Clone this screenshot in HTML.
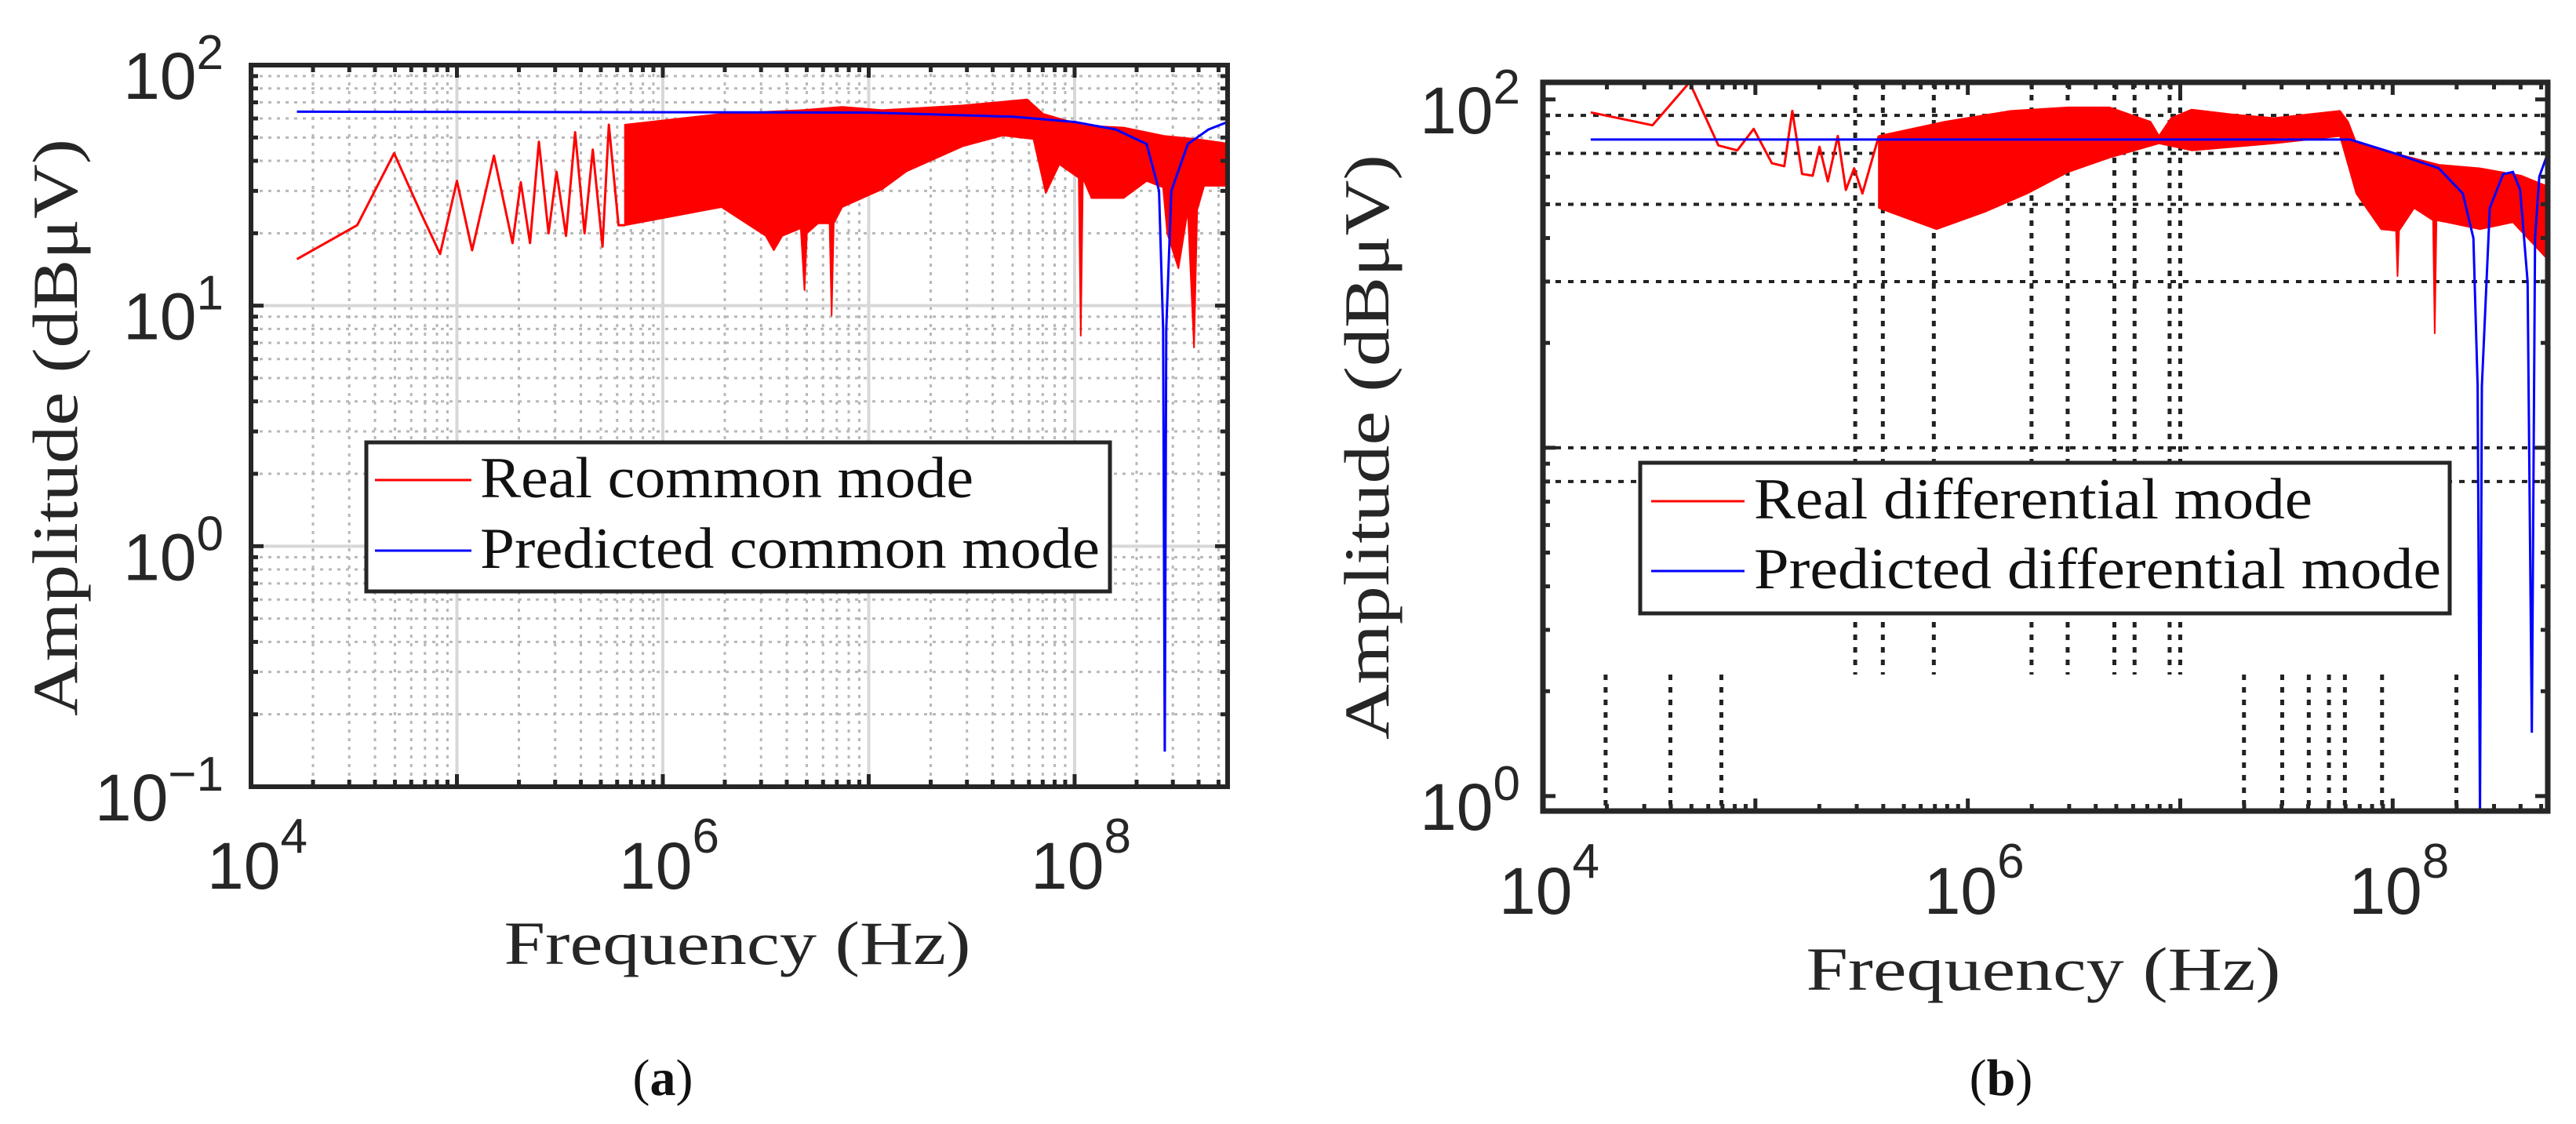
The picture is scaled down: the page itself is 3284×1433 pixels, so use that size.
<!DOCTYPE html>
<html><head><meta charset="utf-8"><style>
html,body{margin:0;padding:0;background:#fff;}
svg{display:block;}
</style></head><body>
<svg id="fig" width="3284" height="1433" viewBox="0 0 3284 1433" xmlns="http://www.w3.org/2000/svg">
<rect x="0" y="0" width="3284" height="1433" fill="#fff"/>
</svg>
<script>
// ---------- Panel (a) data: common mode (frequency as log10 Hz, amplitude in dBuV axis units) ----------
const aRedLineExp = [4.223,4.516,4.695,4.828,4.918,5.0,5.074,5.18,5.27,5.31,5.355,5.398,5.445,5.484,5.53,5.574,5.62,5.66,5.707,5.738,5.785,5.816];
const aRedLineAmp = [15.6,21.6,43,24,16.4,33,17,42,18.2,32.6,18.2,48,20,36,19.5,52.6,20,44.5,17.6,56.5,21.6,21.6];
const aRedUpperExp = [5.816,6.285,6.676,6.871,7.066,7.457,7.77,7.848,8.043,8.238,8.434,8.59,8.743];
const aRedUpperAmp = [56.5,62.7,65,67,65,68,72,62.7,56,55,50.8,49.3,47.2];
const aRedLowerExp = [5.816,6.09,6.285,6.5,6.539,6.58,6.67,6.688,6.7,6.754,6.81,6.82,6.83,6.871,7.066,7.184,7.457,7.652,7.8,7.86,7.926,8.02,8.03,8.04,8.082,8.238,8.35,8.43,8.45,8.504,8.55,8.58,8.595,8.629,8.743];
const aRedLowerAmp = [21.6,23.9,25.7,19.5,17,19.5,21,11.6,20,22,22,9.1,22,25.7,30.5,36.2,46,51,49.3,29.4,38.7,34,7.5,34,28,28,33,31,20,14.3,25,6.7,25,31.5,31.5];
const aBlueExp = [4.223,7.0,7.7,8.0,8.2,8.35,8.41,8.43,8.438,8.445,8.47,8.55,8.65,8.743];
const aBlueAmp = [64,63.5,61,58,54,47,30,8,0.14,8,30,47,54,58];
const aXTicks = [4,6,8];
const aYTicks = [-1,0,1,2];

// ---------- Panel (b) data: differential mode ----------
const bRedLineExp = [4.225,4.516,4.69,4.826,4.915,4.992,5.078,5.136,5.174,5.22,5.27,5.302,5.341,5.388,5.426,5.465,5.504,5.581];
const bRedLineAmp = [91.8,84.3,112,73.8,71.4,82.3,65.6,64.3,92.7,61.1,60.4,73.1,58.2,78.5,55,63.4,53.7,78.5];
const bRedUpperExp = [5.581,5.891,6.202,6.473,6.667,6.86,6.9,6.957,7.054,7.248,7.442,7.752,7.79,7.829,8.217,8.411,8.605,8.725];
const bRedUpperAmp = [78.5,86.3,92.7,94.9,94.9,86.3,78.5,88.4,93.5,90.5,88.4,92.7,86.3,74.8,64.9,63.4,60.4,56.4];
const bRedLowerExp = [5.581,5.853,6.085,6.279,6.473,6.667,6.9,7.054,7.442,7.752,7.829,7.946,8.016,8.023,8.03,8.101,8.19,8.198,8.206,8.256,8.411,8.566,8.725];
const bRedLowerAmp = [48.8,42.4,47.7,53.7,61.9,68.1,74.8,71.4,74.8,78.5,53.7,42.4,42,31.1,42,48.8,45,21.3,45,44.4,42.4,44.4,35];
const bBlueExp = [4.225,7.8,8.02,8.217,8.33,8.38,8.40,8.411,8.42,8.457,8.52,8.566,8.60,8.635,8.655,8.67,8.69,8.725];
const bBlueAmp = [76.7,76.7,69.7,63.4,53.7,40,15,0.5,15,48.8,61,61.9,55,30,1.52,40,60,68.7];
const bXTicks = [4,6,8];
const bYTicks = [0,2];
const bGridHVals = [90,70,50,30,10,8];
const bGridVUpperExp = [5.47,5.6,5.84,6.30,6.47,6.69,6.785,6.95,7.0];
const bGridVLowerExp = [4.295,4.60,4.84,7.30,7.48,7.605,7.70,7.775,7.95,8.30];

const NS='http://www.w3.org/2000/svg';
const svg=document.getElementById('fig');
function mk(tag,attrs,parent){const e=document.createElementNS(NS,tag);for(const k in attrs)e.setAttribute(k,attrs[k]);(parent||svg).appendChild(e);return e;}

function makeAxes(P){
  P.sx=e=>P.x0+(e-P.xmin)/(P.xmax-P.xmin)*(P.x1-P.x0);
  P.sy=v=>{let l=Math.log10(Math.max(v,1e-9));return P.y1-(l-P.ymin)/(P.ymax-P.ymin)*(P.y1-P.y0);};
  P.syl=l=>P.y1-(l-P.ymin)/(P.ymax-P.ymin)*(P.y1-P.y0);
}
function pts(P,ex,am){return ex.map((e,i)=>P.sx(e).toFixed(1)+','+Math.min(P.y1,Math.max(P.y0,P.sy(am[i]))).toFixed(1)).join(' ');}

function drawPanel(P,D){
  makeAxes(P);
  const g=mk('g',{});
  
  
  const clipId=P.name+'-clip';
  const cp=mk('clipPath',{id:clipId},g);mk('rect',{x:P.x0,y:P.y0,width:P.x1-P.x0,height:P.y1-P.y0},cp);
  const grid=mk('g',{},g);
  
  
  if(P.stdGrid){
    for(let d=Math.floor(P.xmin);d<=Math.ceil(P.xmax);d++){for(let m=1;m<10;m++){const e=d+Math.log10(m);if(e<=P.xmin||e>=P.xmax)continue;const x=P.sx(e);
      if(m===1)mk('line',{x1:x,y1:P.y0,x2:x,y2:P.y1,stroke:'#d8d8d8','stroke-width':4},grid);
      else mk('line',{x1:x,y1:P.y0,x2:x,y2:P.y1,stroke:'#b8b8b8','stroke-width':3,'stroke-dasharray':'4 7'},grid);}}
    for(let d=Math.floor(P.ymin);d<=Math.ceil(P.ymax);d++){for(let m=1;m<10;m++){const l=d+Math.log10(m);if(l<=P.ymin||l>=P.ymax)continue;const y=P.syl(l);
      if(m===1)mk('line',{x1:P.x0,y1:y,x2:P.x1,y2:y,stroke:'#d8d8d8','stroke-width':4},grid);
      else mk('line',{x1:P.x0,y1:y,x2:P.x1,y2:y,stroke:'#b8b8b8','stroke-width':3,'stroke-dasharray':'4 7'},grid);}}
  } else {
    bGridHVals.forEach(v=>{const y=P.sy(v);mk('line',{x1:P.x0,y1:y,x2:P.x1,y2:y,stroke:'#222','stroke-width':4,'stroke-dasharray':'7 9'},grid);});
    const split=860;
    bGridVUpperExp.forEach(e=>{const x=P.sx(e);mk('line',{x1:x,y1:P.y0,x2:x,y2:split,stroke:'#222','stroke-width':5,'stroke-dasharray':'7 9'},grid);});
    bGridVLowerExp.forEach(e=>{const x=P.sx(e);mk('line',{x1:x,y1:split,x2:x,y2:P.y1,stroke:'#222','stroke-width':5,'stroke-dasharray':'7 9'},grid);});
  }
  const data=mk('g',{'clip-path':'url(#'+clipId+')'},g);
  
  
  const band=mk('polygon',{points:pts(P,D.ue,D.ua)+' '+pts(P,D.le.slice().reverse(),D.la.slice().reverse()),fill:'#ff0000',stroke:'#ff0000','stroke-width':2,'stroke-linejoin':'round'},data);
  
  
  const rl=mk('polyline',{points:pts(P,D.re,D.ra),fill:'none',stroke:'#ff0000','stroke-width':3,'stroke-linejoin':'round'},data);
  
  
  const bl=mk('polyline',{points:pts(P,D.be,D.ba),fill:'none',stroke:'#0000ff','stroke-width':3},data);
  
  
  const tk=mk('g',{stroke:'#262626','stroke-width':5},g);
  
  
  for(let d=Math.floor(P.xmin);d<=Math.ceil(P.xmax);d++){for(let m=1;m<10;m++){const e=d+Math.log10(m);if(e<P.xmin||e>P.xmax)continue;const x=P.sx(e),L=m===1?16:9;
    mk('line',{x1:x,y1:P.y1,x2:x,y2:P.y1-L},tk);mk('line',{x1:x,y1:P.y0,x2:x,y2:P.y0+L},tk);}}
  for(let d=Math.floor(P.ymin);d<=Math.ceil(P.ymax);d++){for(let m=1;m<10;m++){const l=d+Math.log10(m);if(l<P.ymin||l>P.ymax)continue;const y=P.syl(l),L=m===1?16:9;
    mk('line',{x1:P.x0,y1:y,x2:P.x0+L,y2:y},tk);mk('line',{x1:P.x1,y1:y,x2:P.x1-L,y2:y},tk);}}
  const box=mk('rect',{x:P.x0,y:P.y0,width:P.x1-P.x0,height:P.y1-P.y0,fill:'none',stroke:'#262626','stroke-width':P.bw},g);
  
  
  P.xt.forEach(e=>{const t=mk('text',{x:P.sx(e)+8,y:P.xly,'text-anchor':'middle','font-family':'Liberation Sans, sans-serif','font-size':84,fill:'#262626'},g);
    
    
    t.appendChild(document.createTextNode('10'));const s=mk('tspan',{dy:-46,'font-size':62},t);s.textContent=String(e);});
  P.yt.forEach(l=>{const y=P.syl(l);const t=mk('text',{x:P.x0-P.ylgap,y:y+43,'text-anchor':'end','font-family':'Liberation Sans, sans-serif','font-size':84,fill:'#262626'},g);
    
    
    t.appendChild(document.createTextNode('10'));const s=mk('tspan',{dy:-38,'font-size':62},t);s.textContent=l<0?'\u2212'+(-l):String(l);});
  const xt=mk('text',{x:P.xtx,y:P.xty,'text-anchor':'middle','font-family':'Liberation Serif, serif','font-size':78,fill:'#262626',textLength:P.xtw,lengthAdjust:'spacingAndGlyphs'},g);
  
  
  xt.textContent='Frequency (Hz)';
  const yt=mk('text',{x:0,y:0,'text-anchor':'middle','font-family':'Liberation Serif, serif','font-size':82,fill:'#262626',textLength:P.ytw,lengthAdjust:'spacingAndGlyphs',transform:'translate('+P.ytx+','+P.yty+') rotate(-90)'},g);
  
  
  yt.textContent='Amplitude (dB\u03BCV)';
  const lg=mk('g',{},g);
  
  
  mk('rect',{x:P.lx0,y:P.ly0,width:P.lx1-P.lx0,height:P.ly1-P.ly0,fill:'#fff',stroke:'#262626','stroke-width':5},lg);
  [[P.lab1,'#ff0000',P.lr1,P.lw1],[P.lab2,'#0000ff',P.lr2,P.lw2]].forEach(([txt,col,by,w],i)=>{
    const en=mk('g',{},lg);
    
    
    mk('line',{x1:P.ls0,y1:by-22,x2:P.ls1,y2:by-22,stroke:col,'stroke-width':3},en);
    const t=mk('text',{x:P.lt0,y:by,'font-family':'Liberation Serif, serif','font-size':74,fill:'#111',textLength:w,lengthAdjust:'spacingAndGlyphs'},en);t.textContent=txt;});
  const cap=mk('text',{x:P.capx,y:1396,'text-anchor':'middle','font-family':'Liberation Serif, serif','font-size':66,fill:'#111'},g);
  
  
  cap.appendChild(document.createTextNode('('));const b=mk('tspan',{'font-weight':'bold'},cap);b.textContent=P.capl;cap.appendChild(document.createTextNode(')'));
}

drawPanel({name:'chart-common-mode',x0:320,x1:1565,y0:83,y1:1003,xmin:4,xmax:8.743,ymin:-1,ymax:2,bw:6,stdGrid:true,
  xt:aXTicks,yt:aYTicks,xly:1133,ylgap:35,xtx:940,xty:1229,xtw:595,ytx:98,yty:545,ytw:736,
  lx0:467,lx1:1415,ly0:564,ly1:754,ls0:478,ls1:601,lt0:612,lab1:'Real common mode',lab2:'Predicted common mode',lr1:634,lr2:724,lw1:629,lw2:790,capx:845,capl:'a'},
  {re:aRedLineExp,ra:aRedLineAmp,ue:aRedUpperExp,ua:aRedUpperAmp,le:aRedLowerExp,la:aRedLowerAmp,be:aBlueExp,ba:aBlueAmp});

drawPanel({name:'chart-differential-mode',x0:1967,x1:3248,y0:105,y1:1034,xmin:4,xmax:8.73,ymin:-0.043,ymax:2.049,bw:7,stdGrid:false,
  xt:bXTicks,yt:bYTicks,xly:1165,ylgap:29,xtx:2605,xty:1262,xtw:605,ytx:1770,yty:570,ytw:746,
  lx0:2091,lx1:3123,ly0:590,ly1:782,ls0:2105,ls1:2224,lt0:2236,lab1:'Real differential mode',lab2:'Predicted differential mode',lr1:661,lr2:750,lw1:712,lw2:876,capx:2551,capl:'b'},
  {re:bRedLineExp,ra:bRedLineAmp,ue:bRedUpperExp,ua:bRedUpperAmp,le:bRedLowerExp,la:bRedLowerAmp,be:bBlueExp,ba:bBlueAmp});
</script>
</body></html>
